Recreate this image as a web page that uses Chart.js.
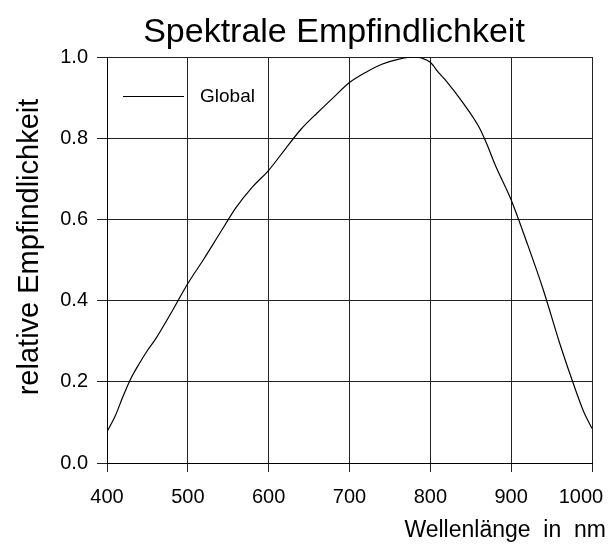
<!DOCTYPE html>
<html>
<head>
<meta charset="utf-8">
<script src="https://cdn.jsdelivr.net/npm/chart.js@4.4.0/dist/chart.umd.min.js"></script>
<style>
  html, body { margin: 0; padding: 0; background: #fff; }
  #wrap { width: 612px; height: 551px; }
</style>
</head>
<body>
<div id="wrap"><canvas id="chart" width="612" height="551"></canvas></div>
<script>
// data
const wavelengths = [400, 410, 420, 430, 440, 450, 460, 480, 500, 520, 540, 560, 580, 600,
                     620, 640, 660, 680, 700, 720, 740, 760, 780, 790, 800, 810, 820, 840,
                     860, 870, 880, 900, 920, 940, 960, 980, 990, 1000];
const sensitivity = [0.077, 0.115, 0.165, 0.21, 0.245, 0.277, 0.305, 0.372, 0.442, 0.503, 0.567, 0.63, 0.68, 0.721,
                     0.772, 0.822, 0.862, 0.90, 0.937, 0.962, 0.982, 0.994, 1.0, 0.997, 0.987, 0.962, 0.94, 0.888,
                     0.828, 0.785, 0.735, 0.648, 0.54, 0.425, 0.295, 0.178, 0.125, 0.085];
const xTicks = [400, 500, 600, 700, 800, 900, 1000];
const yTicks = [0.0, 0.2, 0.4, 0.6, 0.8, 1.0];

const chartTitle = "Spektrale Empfindlichkeit";
const xTitle = "Wellenlänge  in  nm";
const yTitle = "relative Empfindlichkeit";
const seriesName = "Global";

const FONT = '"Liberation Sans", Arial, sans-serif';
const gridColor = '#222';

/* titles + legend drawn on top */
const textPlugin = {
  id: 'textPlugin',
  afterDraw(chart) {
    const { ctx, chartArea: a } = chart;
    ctx.save();
    ctx.fillStyle = '#000';

    ctx.font = '34px ' + FONT;
    ctx.textAlign = 'center';
    ctx.textBaseline = 'alphabetic';
    ctx.fillText(chartTitle, 334, 42);

    ctx.font = '23px ' + FONT;
    ctx.textAlign = 'right';
    ctx.fillText(xTitle, 606, 537);

    ctx.save();
    ctx.translate(30, 247);
    ctx.rotate(-Math.PI / 2);
    ctx.textAlign = 'center';
    ctx.textBaseline = 'middle';
    ctx.font = '29px ' + FONT;
    ctx.fillText(yTitle, 0, 0);
    ctx.restore();

    // legend
    const ly = Math.round(a.top + 39) + 0.5;
    ctx.strokeStyle = '#000';
    ctx.lineWidth = 1;
    ctx.beginPath();
    ctx.moveTo(a.left + 16, ly);
    ctx.lineTo(a.left + 77, ly);
    ctx.stroke();
    ctx.font = '19px ' + FONT;
    ctx.textAlign = 'left';
    ctx.textBaseline = 'middle';
    ctx.fillText(seriesName, a.left + 93, ly);
    ctx.restore();
  }
};

const ctx = document.getElementById('chart').getContext('2d');
const chart = new Chart(ctx, {
  type: 'line',
  data: {
    datasets: [{
      label: seriesName,
      data: wavelengths.map((w, i) => ({ x: w, y: sensitivity[i] })),
      borderColor: '#000',
      borderWidth: 1.2,
      pointRadius: 0,
      cubicInterpolationMode: 'monotone',
      fill: false
    }]
  },
  options: {
    responsive: false,
    animation: false,
    devicePixelRatio: 1,
    layout: { padding: { top: 57, right: 20, left: 0, bottom: 0 } },
    plugins: {
      legend: { display: false },
      title: { display: false },
      tooltip: { enabled: false }
    },
    scales: {
      x: {
        type: 'linear',
        min: 400,
        max: 1000,
        afterBuildTicks: s => { s.ticks = xTicks.map(v => ({ value: v })); },
        afterFit: s => { s.height = 88; s.paddingLeft = 0; s.paddingRight = 0; },
        grid: { color: gridColor, lineWidth: 1, drawTicks: true, tickLength: 9, tickColor: gridColor },
        border: { display: true, color: '#000' },
        ticks: {
          color: '#000', padding: 13, maxRotation: 0,
          // last label is pulled inside the canvas like in the original
          callback: v => v === xTicks[xTicks.length - 1] ? String(v) + '    ' : String(v),
          font: { family: FONT, size: 20 }
        }
      },
      y: {
        type: 'linear',
        min: 0,
        max: 1,
        afterBuildTicks: s => { s.ticks = yTicks.map(v => ({ value: v })); },
        afterFit: s => { s.width = 107; s.paddingTop = 0; s.paddingBottom = 0; },
        grid: { color: gridColor, lineWidth: 1, drawTicks: true, tickLength: 10, tickColor: gridColor },
        border: { display: true, color: '#000' },
        ticks: { color: '#000', padding: 9, callback: v => v.toFixed(1), font: { family: FONT, size: 20 } }
      }
    }
  },
  plugins: [textPlugin]
});
</script>
</body>
</html>
